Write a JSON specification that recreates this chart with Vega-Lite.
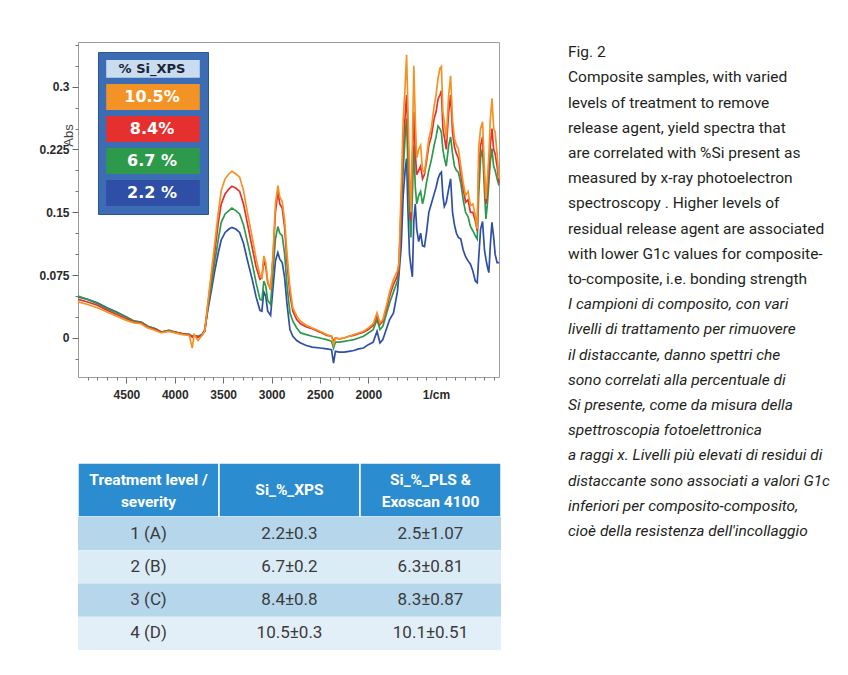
{
  "$schema": "https://vega.github.io/schema/vega-lite/v6.json",
  "background": "white",
  "padding": {"left": 38, "top": 41, "right": 0, "bottom": 0},
  "autosize": {"type": "pad"},
  "config": {"view": {"stroke": null}, "font": "Liberation Sans"},
  "datasets": {
    "series": [
      {"k": "o", "s": "10.5%"},
      {"k": "r", "s": "8.4%"},
      {"k": "g", "s": "6.7 %"},
      {"k": "b", "s": "2.2 %"}
    ],
    "spec": [
      {"wn":5000,"b":0.049,"g":0.050,"r":0.046,"o":0.043},
      {"wn":4900,"b":0.046,"g":0.046,"r":0.043,"o":0.040},
      {"wn":4800,"b":0.042,"g":0.041,"r":0.039,"o":0.036},
      {"wn":4700,"b":0.036,"g":0.035,"r":0.033,"o":0.031},
      {"wn":4600,"b":0.031,"g":0.030,"r":0.028,"o":0.026},
      {"wn":4500,"b":0.025,"g":0.025,"r":0.023,"o":0.021},
      {"wn":4420,"b":0.020,"g":0.020,"r":0.019,"o":0.018},
      {"wn":4350,"b":0.019,"g":0.019,"r":0.018,"o":0.017},
      {"wn":4280,"b":0.014,"g":0.014,"r":0.013,"o":0.012},
      {"wn":4200,"b":0.011,"g":0.011,"r":0.010,"o":0.009},
      {"wn":4140,"b":0.007,"g":0.007,"r":0.007,"o":0.006},
      {"wn":4060,"b":0.009,"g":0.009,"r":0.008,"o":0.008},
      {"wn":4000,"b":0.007,"g":0.007,"r":0.007,"o":0.006},
      {"wn":3920,"b":0.005,"g":0.005,"r":0.005,"o":0.004},
      {"wn":3850,"b":0.004,"g":0.004,"r":0.004,"o":0.003},
      {"wn":3820,"b":0.002,"g":0.002,"r":0.001,"o":-0.012},
      {"wn":3800,"b":0.003,"g":0.003,"r":0.003,"o":0.004},
      {"wn":3760,"b":0.001,"g":0.002,"r":0.001,"o":-0.003},
      {"wn":3720,"b":0.003,"g":0.004,"r":0.004,"o":0.003},
      {"wn":3690,"b":0.010,"g":0.008,"r":0.008,"o":0.008},
      {"wn":3660,"b":0.032,"g":0.035,"r":0.038,"o":0.040},
      {"wn":3620,"b":0.058,"g":0.065,"r":0.075,"o":0.080},
      {"wn":3590,"b":0.078,"g":0.088,"r":0.100,"o":0.110},
      {"wn":3550,"b":0.102,"g":0.118,"r":0.138,"o":0.150},
      {"wn":3520,"b":0.117,"g":0.138,"r":0.160,"o":0.176},
      {"wn":3480,"b":0.126,"g":0.148,"r":0.172,"o":0.190},
      {"wn":3440,"b":0.130,"g":0.152,"r":0.178,"o":0.196},
      {"wn":3410,"b":0.132,"g":0.155,"r":0.181,"o":0.199},
      {"wn":3370,"b":0.130,"g":0.152,"r":0.179,"o":0.196},
      {"wn":3330,"b":0.126,"g":0.148,"r":0.175,"o":0.192},
      {"wn":3290,"b":0.113,"g":0.135,"r":0.160,"o":0.176},
      {"wn":3250,"b":0.093,"g":0.115,"r":0.137,"o":0.150},
      {"wn":3200,"b":0.070,"g":0.089,"r":0.108,"o":0.120},
      {"wn":3160,"b":0.049,"g":0.066,"r":0.085,"o":0.095},
      {"wn":3120,"b":0.033,"g":0.046,"r":0.070,"o":0.075},
      {"wn":3100,"b":0.032,"g":0.045,"r":0.072,"o":0.072},
      {"wn":3080,"b":0.055,"g":0.068,"r":0.092,"o":0.098},
      {"wn":3060,"b":0.050,"g":0.062,"r":0.085,"o":0.090},
      {"wn":3040,"b":0.032,"g":0.045,"r":0.066,"o":0.068},
      {"wn":3010,"b":0.027,"g":0.040,"r":0.058,"o":0.058},
      {"wn":2985,"b":0.060,"g":0.080,"r":0.095,"o":0.100},
      {"wn":2960,"b":0.092,"g":0.118,"r":0.150,"o":0.160},
      {"wn":2935,"b":0.102,"g":0.133,"r":0.175,"o":0.182},
      {"wn":2915,"b":0.094,"g":0.125,"r":0.160,"o":0.168},
      {"wn":2890,"b":0.090,"g":0.122,"r":0.155,"o":0.163},
      {"wn":2865,"b":0.072,"g":0.100,"r":0.132,"o":0.140},
      {"wn":2840,"b":0.040,"g":0.062,"r":0.090,"o":0.100},
      {"wn":2810,"b":0.010,"g":0.030,"r":0.052,"o":0.060},
      {"wn":2780,"b":0.002,"g":0.020,"r":0.032,"o":0.036},
      {"wn":2740,"b":-0.003,"g":0.012,"r":0.022,"o":0.026},
      {"wn":2700,"b":-0.006,"g":0.006,"r":0.017,"o":0.020},
      {"wn":2640,"b":-0.009,"g":0.004,"r":0.013,"o":0.015},
      {"wn":2580,"b":-0.011,"g":0.002,"r":0.011,"o":0.012},
      {"wn":2500,"b":-0.012,"g":0.000,"r":0.007,"o":0.008},
      {"wn":2430,"b":-0.013,"g":-0.002,"r":0.003,"o":0.004},
      {"wn":2380,"b":-0.014,"g":-0.004,"r":0.002,"o":0.002},
      {"wn":2360,"b":-0.030,"g":-0.012,"r":-0.004,"o":-0.008},
      {"wn":2340,"b":-0.016,"g":-0.005,"r":0.000,"o":0.000},
      {"wn":2300,"b":-0.017,"g":-0.005,"r":-0.001,"o":-0.001},
      {"wn":2250,"b":-0.017,"g":-0.004,"r":0.000,"o":0.000},
      {"wn":2200,"b":-0.016,"g":-0.003,"r":0.002,"o":0.002},
      {"wn":2150,"b":-0.015,"g":-0.002,"r":0.003,"o":0.004},
      {"wn":2100,"b":-0.013,"g":0.000,"r":0.005,"o":0.006},
      {"wn":2050,"b":-0.012,"g":0.002,"r":0.007,"o":0.008},
      {"wn":2000,"b":-0.008,"g":0.006,"r":0.010,"o":0.012},
      {"wn":1950,"b":-0.005,"g":0.010,"r":0.015,"o":0.017},
      {"wn":1910,"b":0.008,"g":0.022,"r":0.027,"o":0.030},
      {"wn":1880,"b":-0.006,"g":0.010,"r":0.016,"o":0.018},
      {"wn":1850,"b":-0.002,"g":0.014,"r":0.020,"o":0.022},
      {"wn":1810,"b":0.012,"g":0.030,"r":0.036,"o":0.040},
      {"wn":1780,"b":0.022,"g":0.042,"r":0.050,"o":0.055},
      {"wn":1740,"b":0.030,"g":0.055,"r":0.064,"o":0.070},
      {"wn":1700,"b":0.055,"g":0.068,"r":0.074,"o":0.080},
      {"wn":1684,"b":0.075,"g":0.080,"r":0.085,"o":0.090},
      {"wn":1660,"b":0.110,"g":0.150,"r":0.160,"o":0.180},
      {"wn":1640,"b":0.170,"g":0.200,"r":0.230,"o":0.260},
      {"wn":1620,"b":0.200,"g":0.240,"r":0.265,"o":0.300},
      {"wn":1605,"b":0.214,"g":0.262,"r":0.290,"o":0.338},
      {"wn":1590,"b":0.150,"g":0.200,"r":0.240,"o":0.270},
      {"wn":1575,"b":0.100,"g":0.150,"r":0.180,"o":0.200},
      {"wn":1560,"b":0.085,"g":0.120,"r":0.140,"o":0.150},
      {"wn":1545,"b":0.073,"g":0.170,"r":0.210,"o":0.230},
      {"wn":1530,"b":0.140,"g":0.230,"r":0.270,"o":0.325},
      {"wn":1515,"b":0.160,"g":0.180,"r":0.220,"o":0.260},
      {"wn":1500,"b":0.130,"g":0.160,"r":0.195,"o":0.215},
      {"wn":1480,"b":0.115,"g":0.170,"r":0.200,"o":0.225},
      {"wn":1460,"b":0.125,"g":0.175,"r":0.205,"o":0.230},
      {"wn":1440,"b":0.110,"g":0.160,"r":0.190,"o":0.200},
      {"wn":1420,"b":0.109,"g":0.170,"r":0.195,"o":0.198},
      {"wn":1400,"b":0.125,"g":0.185,"r":0.210,"o":0.215},
      {"wn":1375,"b":0.150,"g":0.200,"r":0.230,"o":0.238},
      {"wn":1350,"b":0.160,"g":0.212,"r":0.240,"o":0.250},
      {"wn":1320,"b":0.172,"g":0.230,"r":0.262,"o":0.277},
      {"wn":1300,"b":0.180,"g":0.240,"r":0.270,"o":0.290},
      {"wn":1280,"b":0.190,"g":0.253,"r":0.285,"o":0.310},
      {"wn":1260,"b":0.196,"g":0.250,"r":0.290,"o":0.322},
      {"wn":1245,"b":0.198,"g":0.245,"r":0.295,"o":0.324},
      {"wn":1230,"b":0.170,"g":0.225,"r":0.250,"o":0.270},
      {"wn":1215,"b":0.157,"g":0.215,"r":0.240,"o":0.258},
      {"wn":1195,"b":0.162,"g":0.205,"r":0.225,"o":0.238},
      {"wn":1170,"b":0.178,"g":0.230,"r":0.270,"o":0.290},
      {"wn":1150,"b":0.190,"g":0.240,"r":0.290,"o":0.313},
      {"wn":1130,"b":0.150,"g":0.220,"r":0.245,"o":0.260},
      {"wn":1110,"b":0.135,"g":0.205,"r":0.228,"o":0.238},
      {"wn":1090,"b":0.125,"g":0.200,"r":0.220,"o":0.230},
      {"wn":1070,"b":0.120,"g":0.198,"r":0.215,"o":0.226},
      {"wn":1045,"b":0.118,"g":0.185,"r":0.195,"o":0.205},
      {"wn":1020,"b":0.105,"g":0.165,"r":0.178,"o":0.185},
      {"wn":995,"b":0.097,"g":0.150,"r":0.162,"o":0.170},
      {"wn":970,"b":0.092,"g":0.145,"r":0.165,"o":0.175},
      {"wn":945,"b":0.088,"g":0.133,"r":0.150,"o":0.158},
      {"wn":920,"b":0.080,"g":0.128,"r":0.150,"o":0.160},
      {"wn":895,"b":0.068,"g":0.122,"r":0.140,"o":0.146},
      {"wn":875,"b":0.066,"g":0.118,"r":0.128,"o":0.130},
      {"wn":860,"b":0.095,"g":0.170,"r":0.200,"o":0.226},
      {"wn":840,"b":0.130,"g":0.215,"r":0.230,"o":0.250},
      {"wn":820,"b":0.139,"g":0.226,"r":0.240,"o":0.258},
      {"wn":800,"b":0.105,"g":0.175,"r":0.190,"o":0.200},
      {"wn":785,"b":0.094,"g":0.142,"r":0.160,"o":0.166},
      {"wn":770,"b":0.085,"g":0.160,"r":0.180,"o":0.190},
      {"wn":755,"b":0.078,"g":0.185,"r":0.200,"o":0.217},
      {"wn":740,"b":0.110,"g":0.210,"r":0.230,"o":0.260},
      {"wn":723,"b":0.138,"g":0.226,"r":0.250,"o":0.286},
      {"wn":705,"b":0.120,"g":0.205,"r":0.225,"o":0.250},
      {"wn":690,"b":0.100,"g":0.200,"r":0.220,"o":0.246},
      {"wn":670,"b":0.090,"g":0.190,"r":0.205,"o":0.220},
      {"wn":650,"b":0.090,"g":0.182,"r":0.185,"o":0.190}
    ],
    "hdr": [
      {"c": "lvl", "t": "Treatment level /\nseverity"},
      {"c": "xps", "t": "Si_%_XPS"},
      {"c": "pls", "t": "Si_%_PLS &\nExoscan 4100"}
    ],
    "tbl": [
      {"lvl": "1 (A)", "xps": "2.2±0.3", "pls": "2.5±1.07"},
      {"lvl": "2 (B)", "xps": "6.7±0.2", "pls": "6.3±0.81"},
      {"lvl": "3 (C)", "xps": "8.4±0.8", "pls": "8.3±0.87"},
      {"lvl": "4 (D)", "xps": "10.5±0.3", "pls": "10.1±0.51"}
    ],
    "cap": [
      {"n": 0, "lang": "en", "t": "Fig. 2"},
      {"n": 1, "lang": "en", "t": "Composite samples, with varied"},
      {"n": 2, "lang": "en", "t": "levels of treatment to remove"},
      {"n": 3, "lang": "en", "t": "release agent, yield spectra that"},
      {"n": 4, "lang": "en", "t": "are correlated with %Si present as"},
      {"n": 5, "lang": "en", "t": "measured by x-ray photoelectron"},
      {"n": 6, "lang": "en", "t": "spectroscopy . Higher levels of"},
      {"n": 7, "lang": "en", "t": "residual release agent are associated"},
      {"n": 8, "lang": "en", "t": "with lower G1c values for composite-"},
      {"n": 9, "lang": "en", "t": "to-composite, i.e. bonding strength"},
      {"n": 10, "lang": "it", "t": "I campioni di composito, con vari"},
      {"n": 11, "lang": "it", "t": "livelli di trattamento per rimuovere"},
      {"n": 12, "lang": "it", "t": "il distaccante, danno spettri che"},
      {"n": 13, "lang": "it", "t": "sono correlati alla percentuale di"},
      {"n": 14, "lang": "it", "t": "Si presente, come da misura della"},
      {"n": 15, "lang": "it", "t": "spettroscopia fotoelettronica"},
      {"n": 16, "lang": "it", "t": "a raggi x. Livelli più elevati di residui di"},
      {"n": 17, "lang": "it", "t": "distaccante sono associati a valori G1c"},
      {"n": 18, "lang": "it", "t": "inferiori per composito-composito,"},
      {"n": 19, "lang": "it", "t": "cioè della resistenza dell'incollaggio"}
    ]
  },
  "spacing": 65,
  "hconcat": [
    {
      "bounds": "flush",
      "spacing": 86,
      "vconcat": [
        {
          "width": 421,
          "height": 335,
          "view": {"stroke": "#9c9c9c", "strokeWidth": 1},
          "data": {"name": "spec"},
          "transform": [
            {"fold": ["b", "g", "r", "o"], "as": ["k", "a"]},
            {"lookup": "k", "from": {"data": {"name": "series"}, "key": "k", "fields": ["s"]}}
          ],
          "layer": [
            {
              "mark": {"type": "line", "strokeWidth": 1.7},
              "encoding": {
                "x": {
                  "field": "wn", "type": "quantitative",
                  "scale": {"domain": [650, 5000], "reverse": true, "nice": false, "zero": false},
                  "axis": {
                    "values": [4500, 4000, 3500, 3000, 2500, 2000], "format": "d",
                    "title": "1/cm", "titleX": 358, "titleY": 12, "titleAlign": "center", "titleBaseline": "top",
                    "titleFont": "Liberation Sans", "titleFontSize": 12, "titleFontWeight": "bold", "titleColor": "#2a2a2a",
                    "labelFont": "Liberation Sans", "labelFontSize": 12, "labelFontWeight": "bold", "labelColor": "#2a2a2a",
                    "labelPadding": 6, "tickSize": 6, "tickColor": "#666666", "domain": false, "grid": false
                  }
                },
                "y": {
                  "field": "a", "type": "quantitative",
                  "scale": {"domain": [-0.0466, 0.3533], "nice": false, "zero": false},
                  "axis": {
                    "values": [0, 0.075, 0.15, 0.225, 0.3], "format": ".3~f",
                    "title": "Abs", "titleX": -10, "titleY": 93, "titleAngle": 270, "titleAlign": "center", "titleBaseline": "middle",
                    "titleFont": "Liberation Sans", "titleFontSize": 13, "titleFontWeight": "normal", "titleColor": "#444444",
                    "labelFont": "Liberation Sans", "labelFontSize": 12, "labelFontWeight": "bold", "labelColor": "#2a2a2a",
                    "labelPadding": 3, "tickSize": 6, "tickColor": "#666666", "domain": false, "grid": false
                  }
                },
                "color": {
                  "field": "s", "type": "nominal",
                  "scale": {
                    "domain": ["% Si_XPS", "10.5%", "8.4%", "6.7 %", "2.2 %"],
                    "range": ["#c9dcf0", "#f39325", "#e5302f", "#2d9a4b", "#2f4ea5"]
                  },
                  "legend": {
                    "title": null, "orient": "none", "legendX": 20, "legendY": 10, "direction": "vertical",
                    "fillColor": "#3c6cb4", "strokeColor": "#2c5593", "padding": 8, "rowPadding": 6,
                    "symbolType": "M-3.6,-1H3.6V1H-3.6Z", "symbolSize": 676, "symbolStrokeWidth": 0, "symbolOpacity": 1,
                    "symbolOffset": 34,
                    "labelAlign": "center", "labelBaseline": "middle", "labelOffset": -14,
                    "labelFont": "DejaVu Sans", "labelFontSize": 16, "labelFontWeight": "bold", "labelColor": "#ffffff",
                    "encode": {
                      "symbols": {"update": {
                        "fill": {"scale": "color", "field": "value"},
                        "shape": {"signal": "datum.value === '% Si_XPS' ? 'M-3.6,-1H3.6V0.36H-3.6Z' : 'M-3.6,-1H3.6V1H-3.6Z'"}
                      }},
                      "labels": {"update": {
                        "fill": {"signal": "datum.value === '% Si_XPS' ? '#1b2436' : '#ffffff'"},
                        "fontSize": {"signal": "datum.value === '% Si_XPS' ? 13 : 16"},
                        "dy": {"signal": "datum.value === '% Si_XPS' ? -4 : 0"}
                      }}
                    }
                  }
                }
              }
            },
            {
              "mark": {"type": "point", "opacity": 0},
              "encoding": {
                "x": {
                  "field": "wn", "type": "quantitative",
                  "axis": {
                    "orient": "bottom",
                    "values": [700,800,900,1000,1100,1200,1300,1400,1500,1600,1700,1800,1900,2000,2100,2200,2300,2400,2500,2600,2700,2800,2900,3000,3100,3200,3300,3400,3500,3600,3700,3800,3900,4000,4100,4200,4300,4400,4500,4600,4700,4800,4900],
                    "labels": false, "title": null, "domain": false, "grid": false, "tickSize": 3, "tickColor": "#777777"
                  }
                },
                "y": {
                  "field": "a", "type": "quantitative",
                  "axis": {
                    "orient": "left",
                    "values": [-0.025, 0.025, 0.05, 0.1, 0.125, 0.175, 0.2, 0.25, 0.275, 0.325, 0.35],
                    "labels": false, "title": null, "domain": false, "grid": false, "tickSize": 3, "tickColor": "#777777"
                  }
                }
              }
            }
          ],
          "resolve": {"axis": {"x": "independent", "y": "independent"}}
        },
        {
          "bounds": "flush",
          "spacing": 0,
          "vconcat": [
            {
              "width": 423,
              "height": 54,
              "data": {"name": "hdr"},
              "layer": [
                {
                  "mark": {"type": "rect", "fill": "#2b8dcf", "stroke": "#ffffff", "strokeWidth": 1.5},
                  "encoding": {
                    "x": {"field": "c", "type": "nominal", "sort": null, "axis": null, "scale": {"type": "band", "paddingInner": 0, "paddingOuter": 0}}
                  }
                },
                {
                  "transform": [{"filter": "indexof(datum.t, '\\n') < 0"}],
                  "mark": {"type": "text", "font": "Roboto", "fontSize": 15.5, "fontWeight": "bold", "fill": "#ffffff", "align": "center", "baseline": "middle"},
                  "encoding": {
                    "x": {"field": "c", "type": "nominal", "sort": null, "axis": null, "scale": {"type": "band", "paddingInner": 0, "paddingOuter": 0}},
                    "text": {"field": "t"}
                  }
                },
                {
                  "transform": [{"filter": "indexof(datum.t, '\\n') >= 0"}],
                  "mark": {"type": "text", "font": "Roboto", "fontSize": 15.5, "fontWeight": "bold", "fill": "#ffffff", "lineBreak": "\n", "lineHeight": 22, "dy": -10, "align": "center", "baseline": "middle"},
                  "encoding": {
                    "x": {"field": "c", "type": "nominal", "sort": null, "axis": null, "scale": {"type": "band", "paddingInner": 0, "paddingOuter": 0}},
                    "text": {"field": "t"}
                  }
                }
              ]
            },
            {
              "width": 423,
              "height": 133,
              "data": {"name": "tbl"},
              "layer": [
                {
                  "mark": {"type": "rect"},
                  "encoding": {
                    "y": {"field": "lvl", "type": "nominal", "axis": null, "scale": {"type": "band", "paddingInner": 0, "paddingOuter": 0}},
                    "fill": {"field": "lvl", "type": "nominal", "legend": null, "scale": {"range": ["#b6d6eb", "#dcecf6", "#b6d6eb", "#e2eff8"]}}
                  }
                },
                {
                  "transform": [{"fold": ["lvl", "xps", "pls"], "as": ["col", "val"]}],
                  "mark": {"type": "text", "font": "Roboto", "fontSize": 17, "fill": "#3a3a3a", "align": "center", "baseline": "middle"},
                  "encoding": {
                    "x": {"field": "col", "type": "nominal", "sort": null, "axis": null, "scale": {"type": "band", "paddingInner": 0, "paddingOuter": 0}},
                    "y": {"field": "lvl", "type": "nominal", "axis": null, "scale": {"type": "band", "paddingInner": 0, "paddingOuter": 0}},
                    "text": {"field": "val"}
                  }
                }
              ]
            }
          ]
        }
      ]
    },
    {
      "width": 270,
      "height": 493,
      "data": {"name": "cap"},
      "layer": [
        {
          "transform": [{"filter": "datum.lang == 'en'"}],
          "mark": {"type": "text", "align": "left", "baseline": "middle", "font": "Roboto", "fontSize": 15.5, "fill": "#231f20"},
          "encoding": {
            "x": {"datum": 0, "type": "quantitative", "scale": {"domain": [0, 1]}, "axis": null},
            "y": {"field": "n", "type": "quantitative", "scale": {"domain": [-0.4, 19.156], "reverse": true, "nice": false, "zero": false}, "axis": null},
            "text": {"field": "t"}
          }
        },
        {
          "transform": [{"filter": "datum.lang == 'it'"}],
          "mark": {"type": "text", "align": "left", "baseline": "middle", "font": "Roboto", "fontStyle": "italic", "fontSize": 15.5, "fill": "#231f20"},
          "encoding": {
            "x": {"datum": 0, "type": "quantitative", "scale": {"domain": [0, 1]}, "axis": null},
            "y": {"field": "n", "type": "quantitative", "scale": {"domain": [-0.4, 19.156], "reverse": true, "nice": false, "zero": false}, "axis": null},
            "text": {"field": "t"}
          }
        }
      ]
    }
  ]
}
